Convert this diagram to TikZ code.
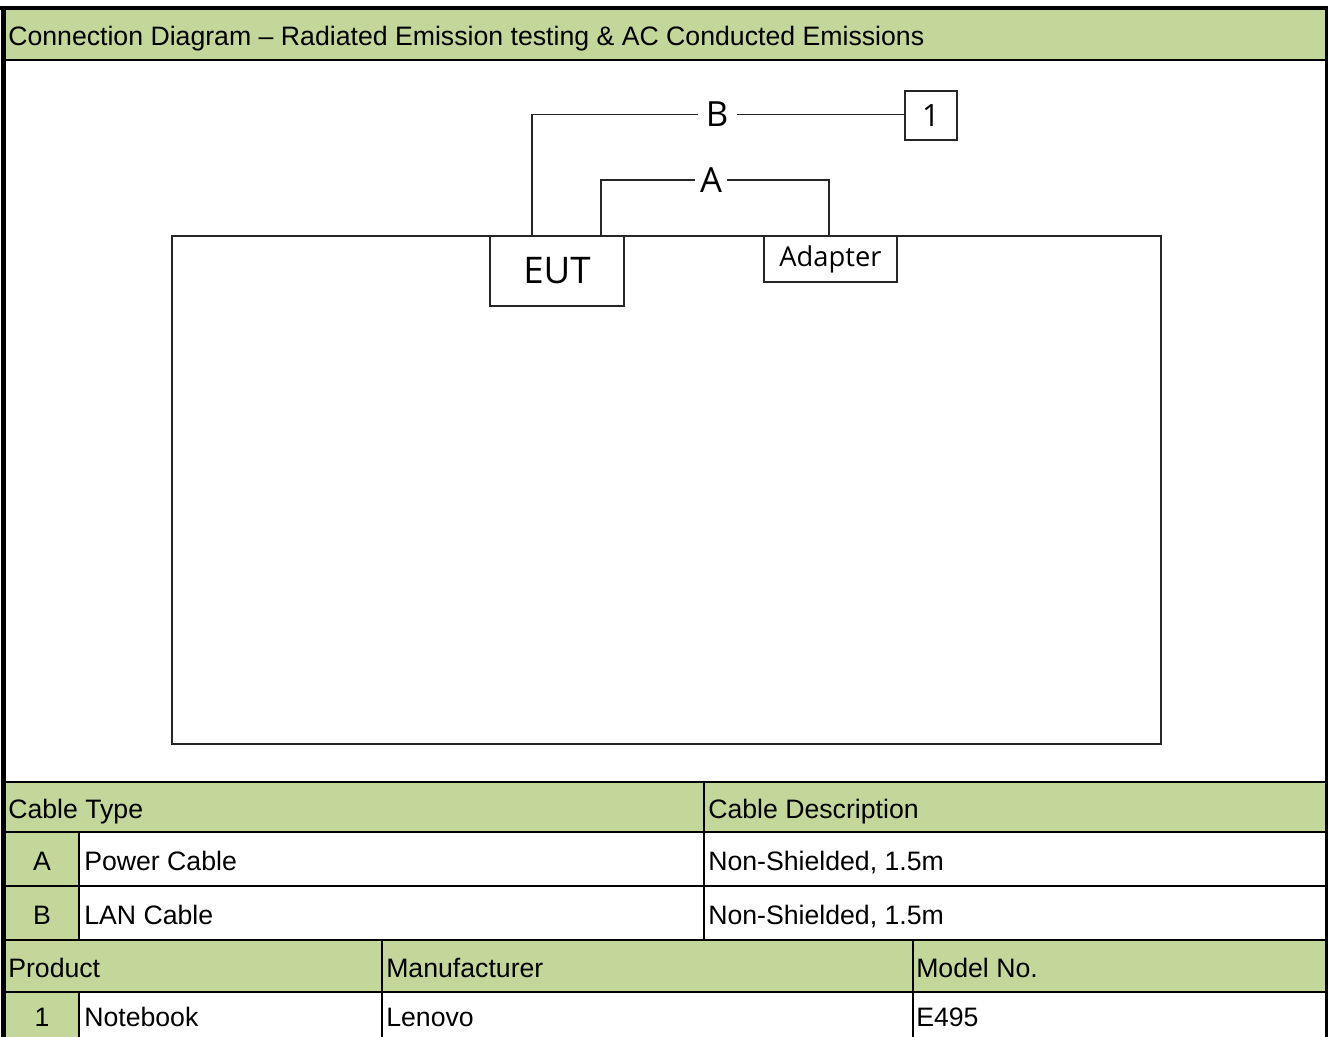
\documentclass[tikz,border=0pt]{standalone}
\usepackage{fontspec}
\setmainfont{Liberation Sans}
\newfontfamily\diagfont{Open Sans}
\definecolor{hdr}{RGB}{196,215,155}
\begin{document}
\begin{tikzpicture}[x=0.75pt,y=-0.75pt,
  wire/.style={draw=black!85, line width=1.4pt},
  box/.style={draw=black!85, line width=1.4pt, fill=white, inner sep=0pt, anchor=north west},
  lbl/.style={fill=white, inner ysep=0pt, font=\diagfont\fontsize{26}{30}\selectfont},
  cell/.style={inner sep=0pt, anchor=base west, font=\fontsize{20}{24}\selectfont},
  ccell/.style={inner sep=0pt, anchor=base, font=\fontsize{20}{24}\selectfont},
  grid/.style={line width=1.6pt, black}]
\useasboundingbox (0,0) rectangle (1328,1036);
% fills
\fill[white] (0,0) rectangle (1328,1036);
\fill[hdr] (5,10) rectangle (1325,60);
\fill[hdr] (5,782) rectangle (1325,832);
\fill[hdr] (5,832) rectangle (79,940);
\fill[hdr] (5,940) rectangle (1325,992);
\fill[hdr] (5,992) rectangle (79,1040);
% diagram
\node[box, minimum width=741.75pt, minimum height=381pt] (bench) at (171,235) {};
\node[box, minimum width=100.5pt, minimum height=52.5pt, font=\diagfont\fontsize{27.5}{30}\selectfont] (eut) at (489,235) {EUT};
\node[box, minimum width=99.75pt, minimum height=34.5pt, font=\diagfont\fontsize{20.5}{24}\selectfont] (adapter) at (763,235) {Adapter};
\node[box, minimum width=39pt, minimum height=36.75pt, font=\diagfont\fontsize{23}{26}\selectfont] (one) at (904,90) {1};
\node[lbl, inner xsep=6pt] (B) at (717,114.5) {B};
\node[lbl, inner xsep=3.75pt] (A) at (711,180) {A};
\draw[wire] ([xshift=32pt]eut.north west) |- (B.west);
\draw[wire] (B.east) -- (B.east -| one.west);
\draw[wire] ([xshift=83.8pt]eut.north west) |- (A.west);
\draw[wire] (A.east) -| ([xshift=49.5pt]adapter.north west);
% table grid
\draw[grid] (5,60) -- (1325,60);
\draw[grid] (5,782) -- (1325,782);
\draw[grid] (5,832) -- (1325,832);
\draw[grid] (5,886) -- (1325,886);
\draw[grid] (5,940) -- (1325,940);
\draw[grid] (5,992) -- (1325,992);
\draw[grid] (79,832) -- (79,940);
\draw[grid] (79,992) -- (79,1040);
\draw[grid] (704,782) -- (704,940);
\draw[grid] (382,940) -- (382,1040);
\draw[grid] (913,940) -- (913,1040);
% outer border
\draw[line width=3.75pt] (3,1040) -- (3,6);
\draw[line width=3pt] (0,8) -- (1328,8);
\draw[line width=2.5pt] (1326.5,6) -- (1326.5,1040);
% texts
\node[cell] (title) at (8,45) {Connection Diagram – Radiated Emission testing \& AC Conducted Emissions};
\node[cell] (ct) at (8,818) {Cable Type};
\node[cell] (cd) at (708,818) {Cable Description};
\node[ccell] (la) at (42,870) {A};
\node[cell] (pa) at (84,870) {Power Cable};
\node[cell] (da) at (708,870) {Non-Shielded, 1.5m};
\node[ccell] (lb) at (42,924) {B};
\node[cell] (pb) at (84,924) {LAN Cable};
\node[cell] (db) at (708,924) {Non-Shielded, 1.5m};
\node[cell] (prod) at (8,977) {Product};
\node[cell] (manu) at (386,977) {Manufacturer};
\node[cell] (model) at (916,977) {Model No.};
\node[ccell] (n1) at (42,1026) {1};
\node[cell] (nb) at (84,1026) {Notebook};
\node[cell] (len) at (386,1026) {Lenovo};
\node[cell] (e495) at (916,1026) {E495};
\end{tikzpicture}
\end{document}
